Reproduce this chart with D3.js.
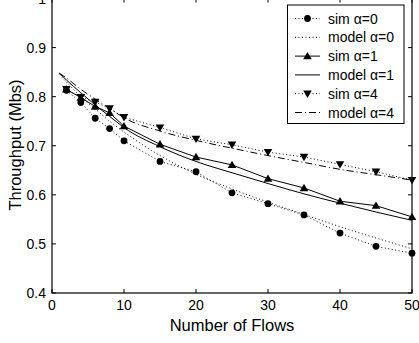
<!DOCTYPE html>
<html><head><meta charset="utf-8">
<script src="https://cdn.jsdelivr.net/npm/d3@7"></script>
<style>body{margin:0;background:#fff}svg{display:block}text{font-family:"Liberation Sans",Arial,sans-serif;fill:#000}</style>
</head><body><svg id="c" width="419" height="343"></svg>
<script>
const simX = [2,4,6,8,10,15,20,25,30,35,40,45,50];
const simA0 = [0.813,0.788,0.756,0.735,0.710,0.668,0.647,0.604,0.582,0.559,0.522,0.495,0.481];
const simA1 = [0.815,0.798,0.780,0.767,0.740,0.703,0.677,0.661,0.633,0.614,0.587,0.578,0.555];
const simA4 = [0.815,0.799,0.789,0.776,0.758,0.737,0.714,0.702,0.687,0.677,0.662,0.647,0.630];
const modelX = [1,2,4,6,8,10,15,20,25,30,35,40,45,50];
const modelA0 = [0.845,0.830,0.800,0.775,0.750,0.728,0.680,0.642,0.612,0.585,0.560,0.535,0.512,0.490];
const modelA1 = [0.848,0.834,0.808,0.783,0.760,0.737,0.698,0.668,0.645,0.623,0.602,0.583,0.565,0.548];
const modelA4 = [0.848,0.838,0.815,0.795,0.776,0.757,0.730,0.711,0.695,0.680,0.666,0.652,0.641,0.630];
const xTicks = [0,10,20,30,40,50];
const yTicks = [0.4,0.5,0.6,0.7,0.8,0.9,1.0];
const legendLabels = ["sim \u03b1=0","model \u03b1=0","sim \u03b1=1","model \u03b1=1","sim \u03b1=4","model \u03b1=4"];

const svg = d3.select("#c");
const x = d3.scaleLinear().domain([0,50]).range([52,412]);
const y = d3.scaleLinear().domain([0.4,1.0]).range([293,-1.5]);

const series = [
  {xs:simX, ys:simA0, dash:"1,2.5", marker:"circle", curve:d3.curveLinear},
  {xs:modelX, ys:modelA0, dash:"1,2.5", marker:null, curve:d3.curveMonotoneX},
  {xs:simX, ys:simA1, dash:null, marker:"up", curve:d3.curveLinear},
  {xs:modelX, ys:modelA1, dash:null, marker:null, curve:d3.curveMonotoneX},
  {xs:simX, ys:simA4, dash:"1,2.5", marker:"down", curve:d3.curveLinear},
  {xs:modelX, ys:modelA4, dash:"7,3,1,3", marker:null, curve:d3.curveMonotoneX}
];

const clip = svg.append("defs").append("clipPath").attr("id","pc").append("rect")
  .attr("x",52).attr("y",-1.5).attr("width",360).attr("height",294.5);

function drawMarker(g, type, cx, cy){
  if(type==="circle") g.append("circle").attr("cx",cx).attr("cy",cy).attr("r",3.4).attr("fill","#000");
  else if(type==="up") g.append("path").attr("d",`M${cx},${cy-4.2}L${cx+4.3},${cy+3.2}L${cx-4.3},${cy+3.2}Z`).attr("fill","#000");
  else if(type==="down") g.append("path").attr("d",`M${cx},${cy+4.2}L${cx+4.3},${cy-3.2}L${cx-4.3},${cy-3.2}Z`).attr("fill","#000");
}

const plot = svg.append("g");
series.forEach(s=>{
  const pts = s.xs.map((v,i)=>[x(v), y(s.ys[i])]);
  plot.append("path").attr("d", d3.line().curve(s.curve)(pts))
    .attr("fill","none").attr("stroke","#000").attr("stroke-width",1)
    .attr("stroke-dasharray", s.dash);
  if(s.marker) pts.forEach(p=>drawMarker(plot, s.marker, p[0], p[1]));
});

// axes
const ax = svg.append("g").attr("stroke","#000").attr("stroke-width",1.2);
ax.append("rect").attr("x",52).attr("y",-1.5).attr("width",360).attr("height",294.5).attr("fill","none");
xTicks.forEach(t=>{
  ax.append("line").attr("x1",x(t)).attr("x2",x(t)).attr("y1",293).attr("y2",289).attr("stroke-width",1);
  ax.append("line").attr("x1",x(t)).attr("x2",x(t)).attr("y1",-1.5).attr("y2",2.5).attr("stroke-width",1);
  svg.append("text").attr("x",x(t)).attr("y",310).attr("text-anchor","middle").attr("font-size",14).text(t);
});
yTicks.forEach(t=>{
  ax.append("line").attr("x1",52).attr("x2",56).attr("y1",y(t)).attr("y2",y(t)).attr("stroke-width",1);
  ax.append("line").attr("x1",412).attr("x2",408).attr("y1",y(t)).attr("y2",y(t)).attr("stroke-width",1);
  svg.append("text").attr("x",46).attr("y",y(t)+5).attr("text-anchor","end").attr("font-size",14).text(d3.format("")(+t.toFixed(1)));
});
svg.append("text").attr("x",232).attr("y",331).attr("text-anchor","middle").attr("font-size",16.5).text("Number of Flows");
svg.append("text").attr("transform","translate(21,145) rotate(-90)").attr("text-anchor","middle").attr("font-size",16.5).text("Throughput (Mbs)");

// legend
const lg = svg.append("g");
lg.append("rect").attr("x",287.5).attr("y",5).attr("width",116.5).attr("height",118.5).attr("fill","#fff").attr("stroke","#000").attr("stroke-width",1);
series.forEach((s,i)=>{
  const cy = 18.5 + i*18.8;
  lg.append("line").attr("x1",295).attr("x2",320).attr("y1",cy).attr("y2",cy)
    .attr("stroke","#000").attr("stroke-width",1).attr("stroke-dasharray",s.dash);
  if(s.marker) drawMarker(lg, s.marker, 307.5, cy);
  lg.append("text").attr("x",328).attr("y",cy+5).attr("font-size",14).text(legendLabels[i]);
});
</script></body></html>
